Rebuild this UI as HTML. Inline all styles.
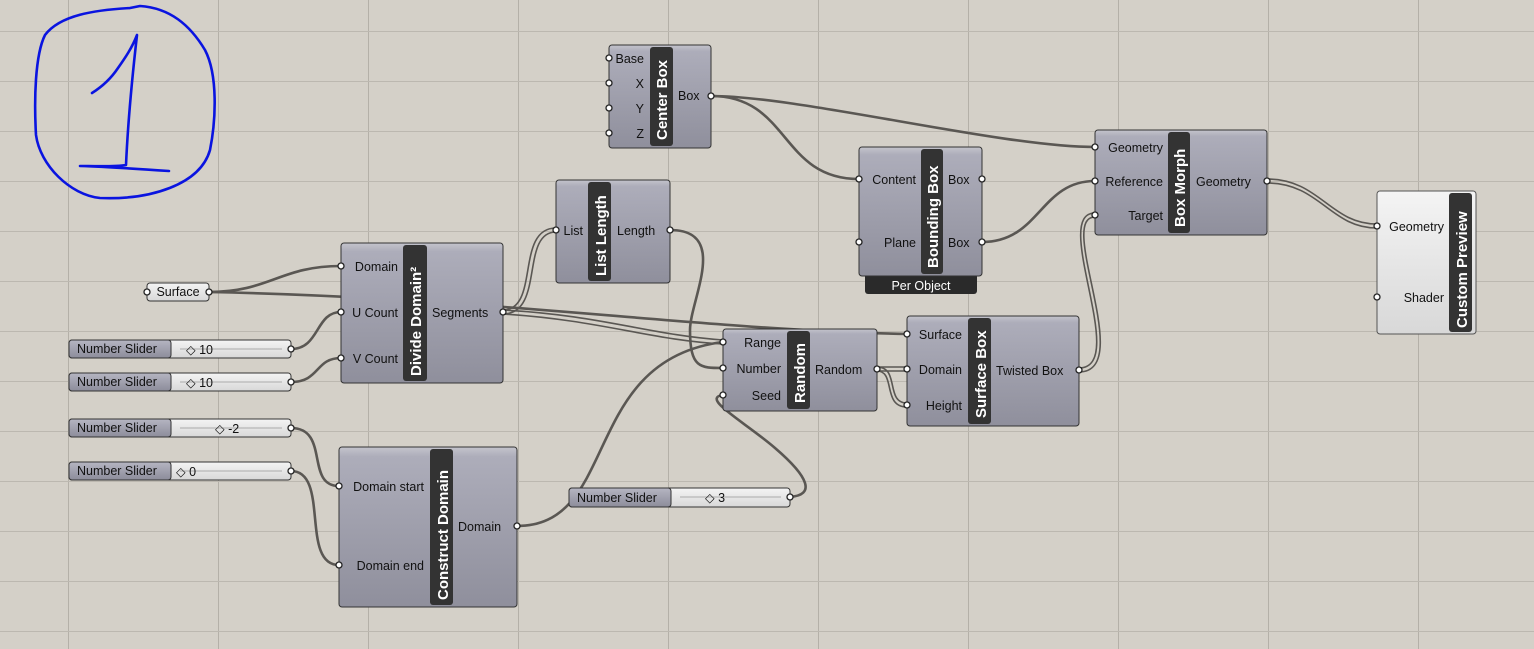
<!DOCTYPE html>
<html><head><meta charset="utf-8"><style>
html,body{margin:0;padding:0;background:#d4d0c8;}
svg{display:block;font-family:"Liberation Sans","DejaVu Sans",sans-serif;}
.t{font-size:12.5px;fill:#111;}
.b{font-size:15px;font-weight:bold;fill:#fff;}
.v{font-size:12.5px;fill:#111;}
.w{fill:none;stroke:#5a5753;stroke-width:2.6;}
.w2{fill:none;stroke:#5a5753;stroke-width:1.6;}
.p{fill:#fff;stroke:#222;stroke-width:1.3;}
</style></head><body>
<svg width="1534" height="649" viewBox="0 0 1534 649" xmlns="http://www.w3.org/2000/svg">
<defs>
<linearGradient id="g" x1="0" y1="0" x2="0" y2="1"><stop offset="0" stop-color="#c4c4cc"/><stop offset="0.06" stop-color="#adadba"/><stop offset="1" stop-color="#8f8f9c"/></linearGradient>
<linearGradient id="gw" x1="0" y1="0" x2="0" y2="1"><stop offset="0" stop-color="#f4f4f4"/><stop offset="1" stop-color="#d8d8d8"/></linearGradient>
<linearGradient id="gs" x1="0" y1="0" x2="0" y2="1"><stop offset="0" stop-color="#b5b5c2"/><stop offset="1" stop-color="#8c8c9a"/></linearGradient>
<pattern id="grid" width="150" height="50" patternUnits="userSpaceOnUse" x="68" y="31">
<line x1="0.5" y1="0" x2="0.5" y2="50" stroke="#b4b0a8" stroke-width="1"/>
<line x1="0" y1="0.5" x2="150" y2="0.5" stroke="#bcb8b0" stroke-width="1"/>
</pattern>
</defs>
<rect width="1534" height="649" fill="#d4d0c8"/>
<rect width="1534" height="649" fill="url(#grid)"/>

<g>
<path class="w" d="M711 96 C 800 96, 1000 147, 1095 147"/>
<path class="w" d="M711 96 C 790 96, 780 179, 859 179"/>
<path class="w" d="M982 242 C 1040 242, 1040 181, 1095 181"/>
<path class="w2" d="M1079 368 C 1130 368, 1050 213, 1095 213"/>
<path class="w2" d="M1079 372 C 1136 372, 1056 217, 1095 217"/>
<path class="w2" d="M1267 179 C 1320 179, 1330 224, 1377 224"/>
<path class="w2" d="M1267 183 C 1320 183, 1330 228, 1377 228"/>
<path class="w" d="M209 292 C 270 292, 280 266, 341 266"/>
<path class="w" d="M209 292 C 500 298, 700 330, 907 334"/>
<path class="w" d="M291 349 C 320 349, 315 312, 341 312"/>
<path class="w" d="M291 382 C 320 382, 315 358, 341 358"/>
<path class="w2" d="M503 310 C 540 310, 515 228, 556 228"/>
<path class="w2" d="M503 314 C 545 314, 520 232, 556 232"/>
<path class="w2" d="M503 310 C 600 315, 650 335, 723 340"/>
<path class="w2" d="M503 314 C 600 320, 650 340, 723 344"/>
<path class="w" d="M670 230 C 730 230, 690 300, 690 330 C 690 368, 700 368, 723 368"/>
<path class="w" d="M517 526 C 620 526, 580 360, 723 342"/>
<path class="w" d="M790 497 C 815 495, 810 478, 775 448 C 745 422, 700 398, 723 395"/>
<path class="w2" d="M877 367 C 895 367, 890 367, 907 367"/>
<path class="w2" d="M877 371 C 895 371, 890 371, 907 371"/>
<path class="w2" d="M877 367 C 900 367, 885 403, 907 403"/>
<path class="w2" d="M877 371 C 896 371, 882 407, 907 407"/>
<path class="w" d="M291 428 C 330 428, 305 486, 339 486"/>
<path class="w" d="M291 471 C 330 471, 300 565, 339 565"/>
</g>

<rect x="609" y="45" width="102" height="103" rx="3" fill="url(#g)" stroke="#333"/>
<rect x="650" y="47" width="23" height="99" rx="3" fill="#333"/>
<text class="b" transform="translate(667,140) rotate(-90)">Center Box</text>
<text class="t" x="644" y="63" text-anchor="end">Base</text>
<text class="t" x="644" y="88" text-anchor="end">X</text>
<text class="t" x="644" y="113" text-anchor="end">Y</text>
<text class="t" x="644" y="138" text-anchor="end">Z</text>
<text class="t" x="678" y="100">Box</text>
<circle class="p" cx="609" cy="58" r="3"/><circle class="p" cx="609" cy="83" r="3"/><circle class="p" cx="609" cy="108" r="3"/><circle class="p" cx="609" cy="133" r="3"/><circle class="p" cx="711" cy="96" r="3"/>

<rect x="865" y="270" width="112" height="24" rx="3" fill="#2a2a2a"/>
<text x="921" y="290" text-anchor="middle" style="font-size:12.5px;fill:#fff">Per Object</text>
<rect x="859" y="147" width="123" height="129" rx="3" fill="url(#g)" stroke="#333"/>
<rect x="921" y="149" width="22" height="125" rx="3" fill="#333"/>
<text class="b" transform="translate(938,268) rotate(-90)">Bounding Box</text>
<text class="t" x="916" y="184" text-anchor="end">Content</text>
<text class="t" x="916" y="247" text-anchor="end">Plane</text>
<text class="t" x="948" y="184">Box</text>
<text class="t" x="948" y="247">Box</text>
<circle class="p" cx="859" cy="179" r="3"/><circle class="p" cx="859" cy="242" r="3"/><circle class="p" cx="982" cy="179" r="3"/><circle class="p" cx="982" cy="242" r="3"/>

<rect x="1095" y="130" width="172" height="105" rx="3" fill="url(#g)" stroke="#333"/>
<rect x="1168" y="132" width="22" height="101" rx="3" fill="#333"/>
<text class="b" transform="translate(1185,227) rotate(-90)">Box Morph</text>
<text class="t" x="1163" y="152" text-anchor="end">Geometry</text>
<text class="t" x="1163" y="186" text-anchor="end">Reference</text>
<text class="t" x="1163" y="220" text-anchor="end">Target</text>
<text class="t" x="1196" y="186">Geometry</text>
<circle class="p" cx="1095" cy="147" r="3"/><circle class="p" cx="1095" cy="181" r="3"/><circle class="p" cx="1095" cy="215" r="3"/><circle class="p" cx="1267" cy="181" r="3"/>

<rect x="1377" y="191" width="99" height="143" rx="3" fill="url(#gw)" stroke="#555"/>
<rect x="1449" y="193" width="23" height="139" rx="3" fill="#333"/>
<text class="b" transform="translate(1467,328) rotate(-90)">Custom Preview</text>
<text class="t" x="1444" y="231" text-anchor="end">Geometry</text>
<text class="t" x="1444" y="302" text-anchor="end">Shader</text>
<circle class="p" cx="1377" cy="226" r="3"/><circle class="p" cx="1377" cy="297" r="3"/>

<rect x="556" y="180" width="114" height="103" rx="3" fill="url(#g)" stroke="#333"/>
<rect x="588" y="182" width="23" height="99" rx="3" fill="#333"/>
<text class="b" transform="translate(606,276) rotate(-90)">List Length</text>
<text class="t" x="583" y="235" text-anchor="end">List</text>
<text class="t" x="617" y="235">Length</text>
<circle class="p" cx="556" cy="230" r="3"/><circle class="p" cx="670" cy="230" r="3"/>

<rect x="147" y="283" width="62" height="18" rx="3" fill="url(#gw)" stroke="#333"/>
<text class="t" x="178" y="296" text-anchor="middle">Surface</text>
<circle class="p" cx="147" cy="292" r="3"/><circle class="p" cx="209" cy="292" r="3"/>

<rect x="341" y="243" width="162" height="140" rx="3" fill="url(#g)" stroke="#333"/>
<rect x="403" y="245" width="24" height="136" rx="3" fill="#333"/>
<text class="b" transform="translate(421,376) rotate(-90)">Divide Domain²</text>
<text class="t" x="398" y="271" text-anchor="end">Domain</text>
<text class="t" x="398" y="317" text-anchor="end">U Count</text>
<text class="t" x="398" y="363" text-anchor="end">V Count</text>
<text class="t" x="432" y="317">Segments</text>
<circle class="p" cx="341" cy="266" r="3"/><circle class="p" cx="341" cy="312" r="3"/><circle class="p" cx="341" cy="358" r="3"/><circle class="p" cx="503" cy="312" r="3"/>

<rect x="69" y="340" width="222" height="18" rx="3" fill="url(#gw)" stroke="#333"/>
<rect x="69" y="340" width="102" height="18" rx="3" fill="url(#gs)" stroke="#333"/>
<text class="t" x="77" y="353">Number Slider</text>
<line x1="180" y1="349" x2="282" y2="349" stroke="#aaa"/>
<text class="v" x="186" y="354">◇ 10</text>
<circle class="p" cx="291" cy="349" r="3"/>

<rect x="69" y="373" width="222" height="18" rx="3" fill="url(#gw)" stroke="#333"/>
<rect x="69" y="373" width="102" height="18" rx="3" fill="url(#gs)" stroke="#333"/>
<text class="t" x="77" y="386">Number Slider</text>
<line x1="180" y1="382" x2="282" y2="382" stroke="#aaa"/>
<text class="v" x="186" y="387">◇ 10</text>
<circle class="p" cx="291" cy="382" r="3"/>

<rect x="69" y="419" width="222" height="18" rx="3" fill="url(#gw)" stroke="#333"/>
<rect x="69" y="419" width="102" height="18" rx="3" fill="url(#gs)" stroke="#333"/>
<text class="t" x="77" y="432">Number Slider</text>
<line x1="180" y1="428" x2="282" y2="428" stroke="#aaa"/>
<text class="v" x="215" y="433">◇ -2</text>
<circle class="p" cx="291" cy="428" r="3"/>

<rect x="69" y="462" width="222" height="18" rx="3" fill="url(#gw)" stroke="#333"/>
<rect x="69" y="462" width="102" height="18" rx="3" fill="url(#gs)" stroke="#333"/>
<text class="t" x="77" y="475">Number Slider</text>
<line x1="180" y1="471" x2="282" y2="471" stroke="#aaa"/>
<text class="v" x="176" y="476">◇ 0</text>
<circle class="p" cx="291" cy="471" r="3"/>

<rect x="569" y="488" width="221" height="19" rx="3" fill="url(#gw)" stroke="#333"/>
<rect x="569" y="488" width="102" height="19" rx="3" fill="url(#gs)" stroke="#333"/>
<text class="t" x="577" y="502">Number Slider</text>
<line x1="680" y1="497" x2="781" y2="497" stroke="#aaa"/>
<text class="v" x="705" y="502">◇ 3</text>
<circle class="p" cx="790" cy="497" r="3"/>

<rect x="723" y="329" width="154" height="82" rx="3" fill="url(#g)" stroke="#333"/>
<rect x="787" y="331" width="23" height="78" rx="3" fill="#333"/>
<text class="b" transform="translate(805,403) rotate(-90)">Random</text>
<text class="t" x="781" y="347" text-anchor="end">Range</text>
<text class="t" x="781" y="373" text-anchor="end">Number</text>
<text class="t" x="781" y="400" text-anchor="end">Seed</text>
<text class="t" x="815" y="374">Random</text>
<circle class="p" cx="723" cy="342" r="3"/><circle class="p" cx="723" cy="368" r="3"/><circle class="p" cx="723" cy="395" r="3"/><circle class="p" cx="877" cy="369" r="3"/>

<rect x="907" y="316" width="172" height="110" rx="3" fill="url(#g)" stroke="#333"/>
<rect x="968" y="318" width="23" height="106" rx="3" fill="#333"/>
<text class="b" transform="translate(986,418) rotate(-90)">Surface Box</text>
<text class="t" x="962" y="339" text-anchor="end">Surface</text>
<text class="t" x="962" y="374" text-anchor="end">Domain</text>
<text class="t" x="962" y="410" text-anchor="end">Height</text>
<text class="t" x="996" y="375">Twisted Box</text>
<circle class="p" cx="907" cy="334" r="3"/><circle class="p" cx="907" cy="369" r="3"/><circle class="p" cx="907" cy="405" r="3"/><circle class="p" cx="1079" cy="370" r="3"/>

<rect x="339" y="447" width="178" height="160" rx="3" fill="url(#g)" stroke="#333"/>
<rect x="430" y="449" width="23" height="156" rx="3" fill="#333"/>
<text class="b" transform="translate(448,600) rotate(-90)">Construct Domain</text>
<text class="t" x="424" y="491" text-anchor="end">Domain start</text>
<text class="t" x="424" y="570" text-anchor="end">Domain end</text>
<text class="t" x="458" y="531">Domain</text>
<circle class="p" cx="339" cy="486" r="3"/><circle class="p" cx="339" cy="565" r="3"/><circle class="p" cx="517" cy="526" r="3"/>

<g fill="none" stroke="#0a14e0" stroke-width="2.6" stroke-linecap="round" stroke-linejoin="round">
<path d="M130 8 C 95 10, 60 15, 45 35 C 35 55, 34 100, 36 135 C 40 165, 70 195, 100 198 C 150 200, 200 185, 210 150 C 216 120, 218 75, 205 50 C 190 25, 170 8, 140 6 L 130 8"/>
<path d="M92 93 C 100 88, 110 80, 118 68 C 125 58, 132 48, 137 35 C 133 70, 128 120, 126 165 C 115 167, 90 166, 80 166 C 110 167, 140 169, 169 171"/>
</g>
</svg>
</body></html>
